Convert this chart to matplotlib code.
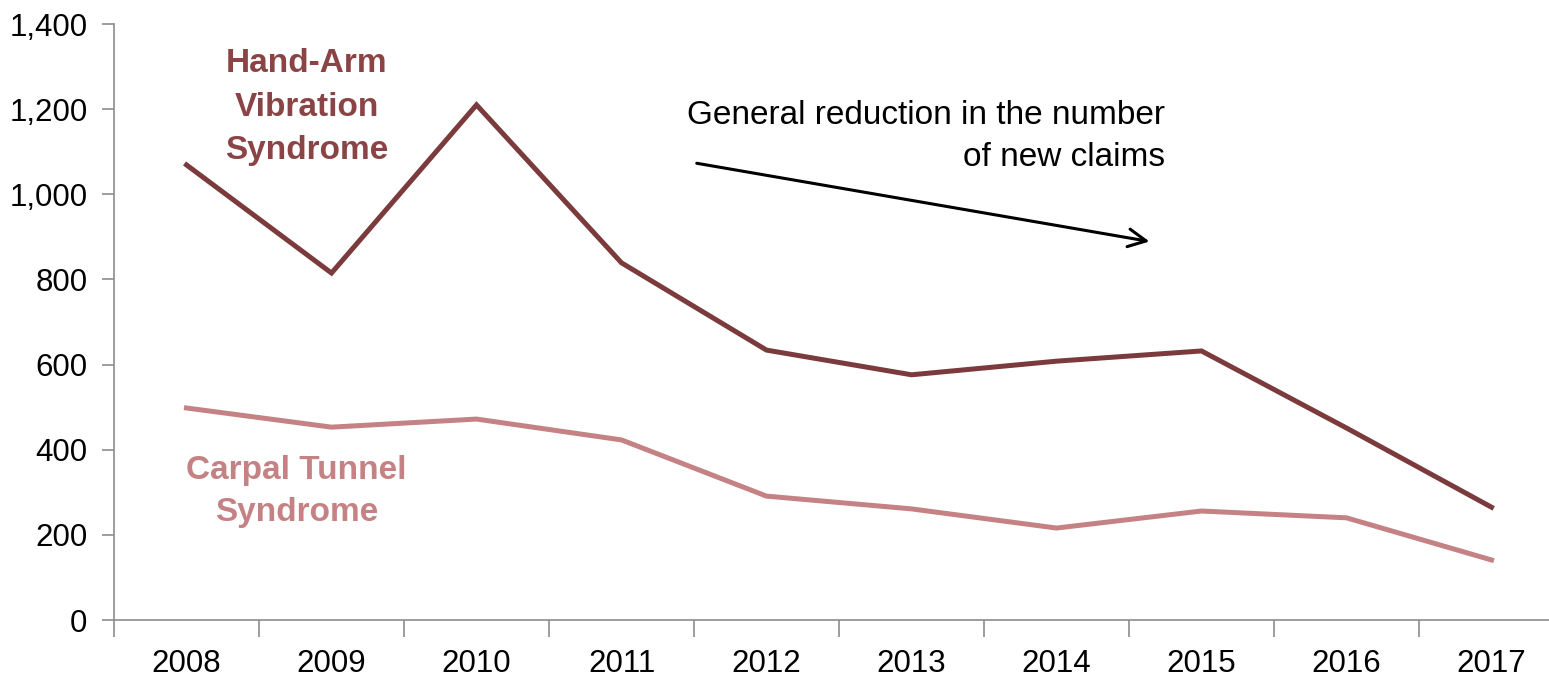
import numpy as np
import matplotlib.pyplot as plt
from matplotlib.ticker import FuncFormatter, FixedLocator

plt.rcParams['font.family'] = ['Liberation Sans', 'DejaVu Sans']

years = ['2008', '2009', '2010', '2011', '2012', '2013', '2014', '2015', '2016', '2017']
havs = [1069, 815, 1210, 839, 634, 576, 608, 632, 451, 265]
cts = [498, 453, 472, 423, 291, 261, 216, 256, 240, 141]

havs_color = '#7b3b3d'
cts_color = '#c48284'
axis_color = '#8c8c8c'

fig = plt.figure(figsize=(15.49, 6.79), dpi=100)
ax = fig.add_axes([114 / 1549, 59 / 679, 1450 / 1549, 596 / 679])

x = np.arange(len(years))
ax.plot(x, havs, color=havs_color, lw=3.6, solid_joinstyle='miter')
ax.plot(x, cts, color=cts_color, lw=3.6, solid_joinstyle='miter')

ax.set_xlim(-0.5, len(years) - 0.5)
ax.set_ylim(0, 1400)
ax.set_yticks(np.arange(0, 1401, 200))
ax.yaxis.set_major_formatter(FuncFormatter(lambda v, p: f'{int(v):,}'))

ax.set_xticks(x)
ax.set_xticklabels(years)
ax.xaxis.set_minor_locator(FixedLocator(np.arange(-0.5, len(years), 1)))
ax.tick_params(axis='x', which='major', length=0, pad=21, labelsize=22.5)
ax.tick_params(axis='x', which='minor', length=12, width=1.2, color=axis_color, direction='out')
ax.tick_params(axis='y', length=9, width=1.2, color=axis_color, labelsize=22.5, pad=10)

for s in ['top', 'right']:
    ax.spines[s].set_visible(False)
for s in ['left', 'bottom']:
    ax.spines[s].set_color(axis_color)
    ax.spines[s].set_linewidth(1.2)

ax.text(0.83, 1205, 'Hand-Arm\nVibration\nSyndrome', color='#8b4446', fontsize=24,
        fontweight='bold', ha='center', va='center', linespacing=1.53)
ax.text(0.76, 302, 'Carpal Tunnel\nSyndrome', color=cts_color, fontsize=24,
        fontweight='bold', ha='center', va='center', linespacing=1.43)
ax.text(6.75, 1136, 'General reduction in the number\nof new claims', color='black',
        fontsize=24, ha='right', va='center', linespacing=1.43)
ax.annotate('', xy=(6.66, 888), xytext=(3.50, 1074),
            arrowprops=dict(arrowstyle='->', color='black', lw=2.2, mutation_scale=32))

fig.savefig('out.png', dpi=100)
